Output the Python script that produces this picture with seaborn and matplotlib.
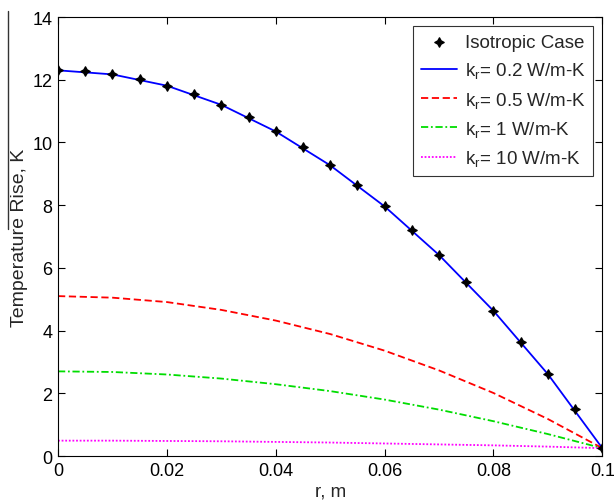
import numpy as np
import pandas as pd
import seaborn as sns
import matplotlib
matplotlib.use("Agg")
import matplotlib.pyplot as plt
from matplotlib.lines import Line2D

# data
r_iso = [0.0, 0.005, 0.01, 0.015, 0.02, 0.025, 0.03, 0.035, 0.04, 0.045, 0.05,
         0.055, 0.06, 0.065, 0.07, 0.075, 0.08, 0.085, 0.09, 0.095, 0.1]
t_iso = [12.30, 12.27, 12.17, 12.02, 11.81, 11.53, 11.20, 10.80, 10.35, 9.84, 9.27,
         8.64, 7.96, 7.21, 6.41, 5.55, 4.63, 3.65, 2.61, 1.51, 0.25]

r_line = [0.0, 0.01, 0.02, 0.03, 0.04, 0.05, 0.06, 0.07, 0.08, 0.09, 0.1]
t_k02 = [12.30, 12.17, 11.81, 11.20, 10.35, 9.27, 7.96, 6.41, 4.63, 2.61, 0.25]
t_k05 = [5.10, 5.05, 4.91, 4.66, 4.32, 3.89, 3.36, 2.73, 2.01, 1.18, 0.25]
t_k1 = [2.70, 2.68, 2.60, 2.47, 2.29, 2.07, 1.80, 1.48, 1.11, 0.70, 0.25]
t_k10 = [0.49, 0.49, 0.48, 0.47, 0.45, 0.43, 0.40, 0.37, 0.34, 0.30, 0.25]

labels = ["Isotropic Case", r"k$_r$= 0.2 W/m-K", r"k$_r$= 0.5 W/m-K",
          r"k$_r$= 1 W/m-K", r"k$_r$= 10 W/m-K"]
x_ticks = [0, 0.02, 0.04, 0.06, 0.08, 0.1]
x_ticklabels = ["0", "0.02", "0.04", "0.06", "0.08", "0.1"]
y_ticks = [0, 2, 4, 6, 8, 10, 12, 14]

sns.set_theme(style="ticks")
plt.rcParams['font.family'] = ['Liberation Sans', 'DejaVu Sans']
plt.rcParams['mathtext.fontset'] = 'custom'
plt.rcParams['mathtext.rm'] = 'Liberation Sans'
plt.rcParams['mathtext.it'] = 'Liberation Sans'

fig = plt.figure(figsize=(6.14, 5.02), dpi=100)
ax = fig.add_axes([0.0945, 0.0896, 0.8865, 0.8745])

df = pd.DataFrame({
    "r": r_line * 4,
    "T": t_k02 + t_k05 + t_k1 + t_k10,
    "case": [labels[1]] * 11 + [labels[2]] * 11 + [labels[3]] * 11 + [labels[4]] * 11,
})
colors = {labels[1]: "#0000ff", labels[2]: "#ff0000", labels[3]: "#00dd00", labels[4]: "#ff00ff"}
dashes = {labels[1]: "", labels[2]: (4, 2), labels[3]: (4, 1.5, 1, 1.5), labels[4]: (1, 1)}

iso = pd.DataFrame({"r": r_iso, "T": t_iso})
sns.scatterplot(data=iso, x="r", y="T", ax=ax, marker=(4, 1, 0), s=45, color="black",
                edgecolor="black", linewidth=1.0, label=labels[0], zorder=5)
sns.lineplot(data=df, x="r", y="T", hue="case", style="case", palette=colors,
             dashes=dashes, ax=ax, linewidth=1.3, sort=False, estimator=None)

ax.set_xlim(0, 0.1)
ax.set_ylim(0, 14)
ax.set_xticks(x_ticks)
ax.set_xticklabels(x_ticklabels)
ax.set_yticks(y_ticks)
ax.tick_params(direction="in", top=True, right=True, length=5, width=0.8,
               labelsize=13, colors="black", pad=4)
for s in ax.spines.values():
    s.set_color("black")
    s.set_linewidth(0.8)
ax.set_xlabel("r, m", fontsize=13.5, labelpad=3)
ax.set_ylabel("Temperature Rise, K", fontsize=14, labelpad=3)

leg = ax.legend(loc="upper right", fontsize=13.5, frameon=True, fancybox=False,
                edgecolor="black", handlelength=1.9, handletextpad=0.45,
                labelspacing=0.5, borderaxespad=0.0, borderpad=0.4,
                bbox_to_anchor=(0.9835, 0.979))
leg.get_frame().set_linewidth(0.8)

# stray vertical line at the far left of the reference image
fig.add_artist(Line2D([0.0135, 0.0135], [1 - 12 / 502, 1 - 230 / 502],
                      transform=fig.transFigure, color="#333333", linewidth=1.0))

fig.savefig("out.png", dpi=100)
